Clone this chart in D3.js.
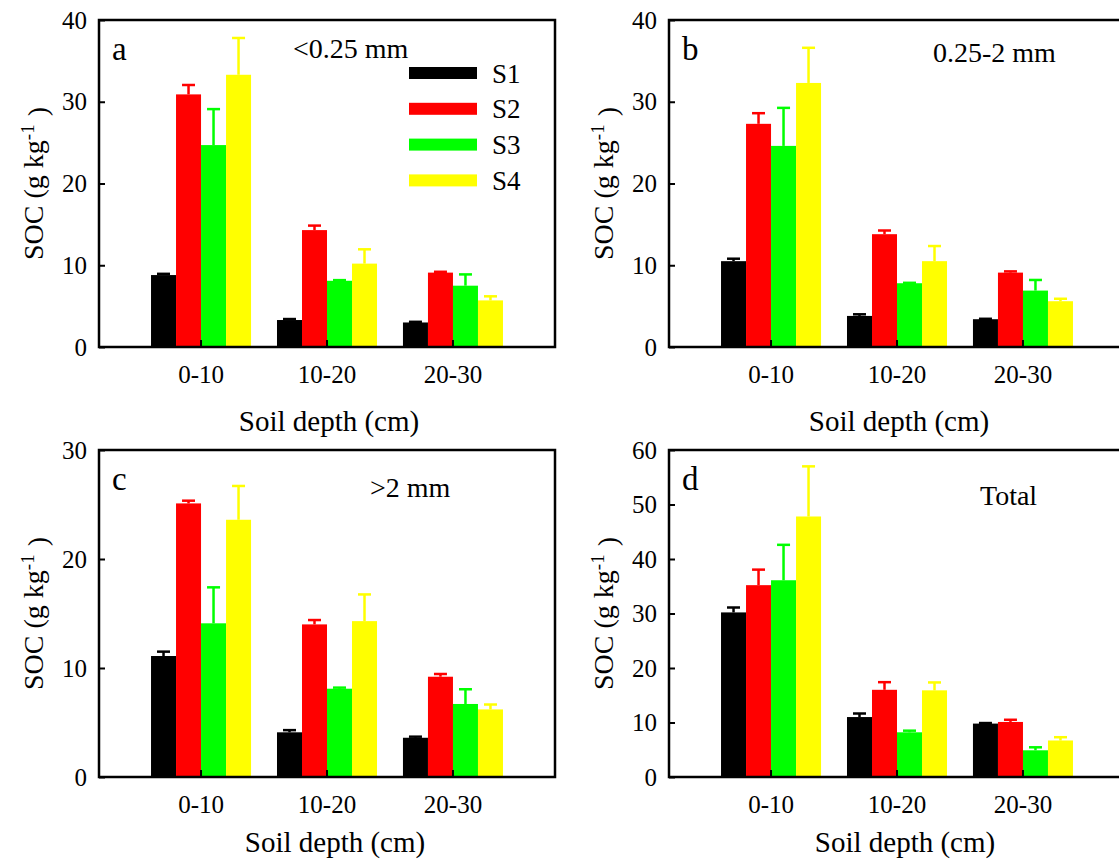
<!DOCTYPE html>
<html>
<head>
<meta charset="utf-8">
<title>SOC by soil depth</title>
<script src="https://d3js.org/d3.v7.min.js"></script>
<style>
  body { margin: 0; background: #fff; }
</style>
</head>
<body>
<div id="chart"></div>
<script>
// categories
const depths = ["0-10", "10-20", "20-30"]
const treatments = ["S1", "S2", "S3", "S4"]
const colors = ["#000000", "#ff0000", "#00ff00", "#ffff00"]

// SOC means (rows = depth, columns = S1..S4), g kg-1
const socA = [[8.8, 30.9, 24.7, 33.3], [3.3, 14.3, 8.1, 10.2], [3.0, 9.1, 7.5, 5.7]]
const errA = [[0.15, 1.15, 4.4, 4.5], [0.12, 0.55, 0.08, 1.75], [0.08, 0.1, 1.38, 0.5]]

const socB = [[10.5, 27.3, 24.6, 32.3], [3.8, 13.8, 7.8, 10.5], [3.4, 9.1, 6.9, 5.6]]
const errB = [[0.3, 1.3, 4.65, 4.3], [0.2, 0.45, 0.05, 1.85], [0.05, 0.15, 1.3, 0.3]]

const socC = [[11.1, 25.1, 14.1, 23.6], [4.1, 14.0, 8.1, 14.3], [3.6, 9.2, 6.7, 6.2]]
const errC = [[0.4, 0.25, 3.3, 3.1], [0.2, 0.4, 0.1, 2.45], [0.1, 0.25, 1.35, 0.45]]

const socD = [[30.2, 35.2, 36.1, 47.8], [11.0, 16.0, 8.2, 15.9], [9.8, 10.1, 4.9, 6.7]]
const errD = [[0.9, 2.85, 6.5, 9.2], [0.65, 1.4, 0.3, 1.45], [0.1, 0.4, 0.55, 0.6]]

// y tick labels
const ticksAB = [0, 10, 20, 30, 40]
const ticksC = [0, 10, 20, 30]
const ticksD = [0, 10, 20, 30, 40, 50, 60]

// panel layout
let w = 456
let h = 327
let serif = "'Liberation Serif', 'Times New Roman', serif"
let panels = [
    {letter: "a", title: "<0.25 mm", left: 99, top: 20, mean: socA, err: errA, ticks: ticksAB, titleX: 293, titleY: 58, xTitleY: 431, legend: true},
    {letter: "b", title: "0.25-2 mm", left: 669, top: 20, mean: socB, err: errB, ticks: ticksAB, titleX: 933, titleY: 62, xTitleY: 431, legend: false},
    {letter: "c", title: ">2 mm", left: 99, top: 450, mean: socC, err: errC, ticks: ticksC, titleX: 370, titleY: 497, xTitleY: 852, legend: false},
    {letter: "d", title: "Total", left: 669, top: 450, mean: socD, err: errD, ticks: ticksD, titleX: 980, titleY: 505, xTitleY: 852, legend: false}
]

let svg = d3.select("#chart")
    .append("svg")
        .attr("width", 1119)
        .attr("height", 863)

svg.append("rect")
    .attr("width", 1119)
    .attr("height", 863)
    .attr("fill", "#fff")

function render(p) {
    let g = svg.append("g")
        .attr("transform", "translate(" + p.left + "," + p.top + ")")

    let xScale = d3.scaleBand()
        .domain(depths)
        .range([0, w])
        .paddingInner(0.206)
        .paddingOuter(0.413)

    let subScale = d3.scaleBand()
        .domain(treatments)
        .range([0, xScale.bandwidth()])

    let yScale = d3.scaleLinear()
        .domain([0, d3.max(p.ticks)])
        .range([h, 0])

    // bars
    let groups = g.selectAll(".grp")
        .data(depths)
        .enter()
        .append("g")
        .attr("transform", function(d) { return "translate(" + xScale(d) + ",0)" })

    groups.each(function(d, i) {
        let rows = treatments.map(function(t, j) {
            return {t: t, v: p.mean[i][j], e: p.err[i][j], c: colors[j]}
        })
        let sel = d3.select(this)
        let mid = function(r) { return subScale(r.t) + subScale.bandwidth() / 2 }

        // error bars (drawn first, bar covers the lower part)
        sel.selectAll("line.whisker")
            .data(rows)
            .enter()
            .append("line")
            .attr("x1", mid)
            .attr("x2", mid)
            .attr("y1", function(r) { return yScale(r.v) })
            .attr("y2", function(r) { return yScale(r.v + r.e) })
            .attr("stroke", function(r) { return r.c })
            .attr("stroke-width", 2.5)

        sel.selectAll("line.cap")
            .data(rows)
            .enter()
            .append("line")
            .attr("x1", function(r) { return mid(r) - 6.5 })
            .attr("x2", function(r) { return mid(r) + 6.5 })
            .attr("y1", function(r) { return yScale(r.v + r.e) })
            .attr("y2", function(r) { return yScale(r.v + r.e) })
            .attr("stroke", function(r) { return r.c })
            .attr("stroke-width", 2.5)

        sel.selectAll("rect")
            .data(rows)
            .enter()
            .append("rect")
            .attr("x", function(r) { return subScale(r.t) })
            .attr("y", function(r) { return yScale(r.v) })
            .attr("width", subScale.bandwidth())
            .attr("height", function(r) { return h - yScale(r.v) })
            .attr("fill", function(r) { return r.c })
    })

    // axes, ticks pointing inward
    let xAxis = d3.axisBottom(xScale)
        .tickSizeInner(-7)
        .tickSizeOuter(0)

    let yAxis = d3.axisLeft(yScale)
        .tickValues(p.ticks)
        .tickFormat(d3.format("d"))
        .tickSizeInner(-6)
        .tickSizeOuter(0)
        .tickPadding(12)

    let gx = g.append("g")
        .attr("transform", "translate(0," + h + ")")
        .call(xAxis)
    gx.select(".domain").remove()
    gx.selectAll("line").attr("stroke", "#000").attr("stroke-width", 2)
    gx.selectAll("text")
        .attr("y", 36)
        .attr("dy", 0)
        .attr("font-size", "25px")

    let gy = g.append("g")
        .call(yAxis)
    gy.select(".domain").remove()
    gy.selectAll("line").attr("stroke", "#000").attr("stroke-width", 2)
    gy.selectAll("text")
        .attr("font-size", "25px")

    // frame
    g.append("rect")
        .attr("width", w)
        .attr("height", h)
        .attr("fill", "none")
        .attr("stroke", "#000")
        .attr("stroke-width", 2.5)

    // panel letter and size class
    g.append("text")
        .attr("x", 13)
        .attr("y", 40)
        .attr("font-size", "33px")
        .text(p.letter)

    svg.append("text")
        .attr("x", p.titleX)
        .attr("y", p.titleY)
        .attr("font-size", "28px")
        .text(p.title)

    // axis titles
    g.append("text")
        .attr("x", w / 2 + (p.top > 100 ? 8 : 2))
        .attr("y", p.xTitleY - p.top)
        .style("text-anchor", "middle")
        .attr("font-size", "29px")
        .text("Soil depth (cm)")

    let yt = g.append("text")
        .attr("transform", "translate(-56," + (h / 2) + ") rotate(-90)")
        .style("text-anchor", "middle")
        .attr("font-size", "28px")
    yt.append("tspan").text("SOC (g kg")
    yt.append("tspan").attr("dy", "-0.45em").attr("font-size", "19px").text("-1")
    yt.append("tspan").attr("dy", "0.45em").attr("dx", 8).text(")")

    if (p.legend) {
        let lg = g.selectAll(".leg")
            .data(treatments)
            .enter()
            .append("g")
            .attr("transform", function(d, i) { return "translate(310," + (53 + i * 35.8) + ")" })
        lg.append("rect")
            .attr("x", 0)
            .attr("y", -6)
            .attr("width", 68)
            .attr("height", 12)
            .attr("fill", function(d, i) { return colors[i] })
        lg.append("text")
            .attr("x", 83)
            .attr("y", 9.5)
            .attr("font-size", "27px")
            .text(function(d) { return d })
    }
}

panels.forEach(render)

svg.selectAll("text")
    .style("font-family", serif)
    .attr("fill", "#000")
</script>
</body>
</html>
